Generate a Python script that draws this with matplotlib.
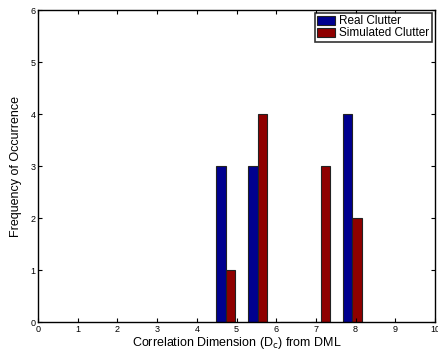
import numpy as np
import matplotlib
matplotlib.use('Agg')
import matplotlib.pyplot as plt

# bin centres and counts
bin_centres = [4.73, 5.53, 6.33, 7.12, 7.92]
real_clutter = [3, 3, 0, 0, 4]
sim_clutter = [1, 4, 0, 3, 2]
series_names = ['Real Clutter', 'Simulated Clutter']

plt.rcParams['font.family'] = ['Liberation Sans', 'DejaVu Sans']

fig = plt.figure(figsize=(4.38, 3.62), dpi=100)
ax = fig.add_axes([0.087, 0.110, 0.906, 0.862])

w = 0.235
x = np.array(bin_centres)
ax.bar(x - w / 2, real_clutter, width=w, color='#00008f', edgecolor='#222222',
       linewidth=0.8, label=series_names[0])
ax.bar(x + w / 2, sim_clutter, width=w, color='#8f0000', edgecolor='#222222',
       linewidth=0.8, label=series_names[1])

ax.set_xlim(0, 10)
ax.set_ylim(0, 6)
ax.set_xticks(range(0, 11))
ax.set_yticks(range(0, 7))
ax.tick_params(direction='in', top=True, right=True, labelsize=6.5, length=3, pad=2)
for s in ax.spines.values():
    s.set_linewidth(1.0)

ax.set_xlabel(r'Correlation Dimension (D$_\mathrm{c}$) from DML', fontsize=9, labelpad=1)
ax.set_ylabel('Frequency of Occurrence', fontsize=9, labelpad=6)

leg = ax.legend(loc='upper right', fontsize=8.5, frameon=True, fancybox=False,
                borderpad=0.2, labelspacing=0.0, handlelength=1.5, handleheight=0.8,
                handletextpad=0.4, borderaxespad=0.25, edgecolor='black')
leg.get_frame().set_linewidth(1.2)

fig.savefig('out.png', dpi=100)
